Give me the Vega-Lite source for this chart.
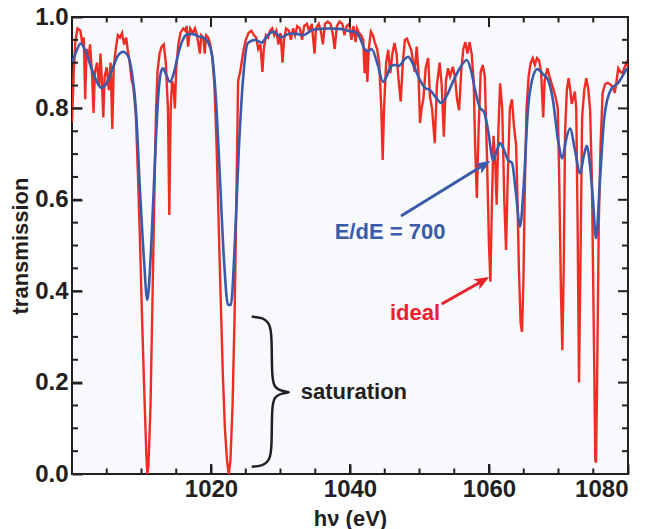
{
  "$schema": "https://vega.github.io/schema/vega-lite/v6.json",
  "width": 556,
  "height": 457,
  "autosize": {"type": "none"},
  "padding": {"left": 72, "top": 17, "right": 22, "bottom": 55},
  "background": "#ffffff",
  "view": {"fill": "#f8f9fd", "stroke": "#231f20", "strokeWidth": 2},
  "config": {
    "font": "Liberation Sans",
    "axis": {"grid": false, "domain": false,
      "labelFont": "Liberation Sans", "labelFontWeight": "bold", "labelFontSize": 24, "labelColor": "#231f20",
      "titleFont": "Liberation Sans", "titleFontWeight": "bold", "titleFontSize": 22, "titleColor": "#231f20"}
  },
  "resolve": {"axis": {"x": "independent", "y": "independent"}},
  "datasets": {
    "ideal": [
      {"E":1000.0,"T":0.77},{"E":1000.25,"T":0.88},{"E":1000.5,"T":0.95},{"E":1000.8,"T":0.975},{"E":1001.2,"T":0.97},{"E":1001.5,"T":0.94},{"E":1001.7,"T":0.955},{"E":1001.9,"T":0.82},{"E":1002.1,"T":0.93},{"E":1002.4,"T":0.91},{"E":1002.6,"T":0.94},{"E":1002.9,"T":0.87},{"E":1003.1,"T":0.79},{"E":1003.3,"T":0.88},{"E":1003.6,"T":0.9},{"E":1003.9,"T":0.85},{"E":1004.1,"T":0.92},{"E":1004.3,"T":0.86},{"E":1004.5,"T":0.78},{"E":1004.7,"T":0.87},{"E":1005.0,"T":0.89},{"E":1005.3,"T":0.84},{"E":1005.55,"T":0.9},{"E":1005.8,"T":0.755},{"E":1006.0,"T":0.89},{"E":1006.3,"T":0.93},{"E":1006.6,"T":0.96},{"E":1006.9,"T":0.955},{"E":1007.2,"T":0.965},{"E":1007.5,"T":0.94},{"E":1007.8,"T":0.955},{"E":1008.0,"T":0.93},{"E":1008.3,"T":0.9},{"E":1008.6,"T":0.86},{"E":1008.8,"T":0.85},{"E":1009.0,"T":0.82},{"E":1009.2,"T":0.78},{"E":1009.5,"T":0.65},{"E":1009.8,"T":0.5},{"E":1010.1,"T":0.33},{"E":1010.4,"T":0.18},{"E":1010.7,"T":0.04},{"E":1010.85,"T":0.0},{"E":1011.0,"T":0.02},{"E":1011.3,"T":0.15},{"E":1011.6,"T":0.4},{"E":1011.9,"T":0.65},{"E":1012.1,"T":0.8},{"E":1012.3,"T":0.88},{"E":1012.6,"T":0.92},{"E":1012.9,"T":0.935},{"E":1013.2,"T":0.94},{"E":1013.5,"T":0.9},{"E":1013.8,"T":0.8},{"E":1014.0,"T":0.567},{"E":1014.2,"T":0.8},{"E":1014.4,"T":0.86},{"E":1014.6,"T":0.85},{"E":1014.8,"T":0.8},{"E":1015.0,"T":0.89},{"E":1015.3,"T":0.94},{"E":1015.6,"T":0.965},{"E":1016.0,"T":0.975},{"E":1016.3,"T":0.97},{"E":1016.5,"T":0.98},{"E":1016.7,"T":0.935},{"E":1017.0,"T":0.975},{"E":1017.4,"T":0.965},{"E":1017.7,"T":0.975},{"E":1018.0,"T":0.96},{"E":1018.4,"T":0.92},{"E":1018.6,"T":0.96},{"E":1018.9,"T":0.955},{"E":1019.1,"T":0.92},{"E":1019.3,"T":0.96},{"E":1019.6,"T":0.955},{"E":1019.9,"T":0.94},{"E":1020.2,"T":0.91},{"E":1020.5,"T":0.85},{"E":1020.8,"T":0.72},{"E":1021.1,"T":0.55},{"E":1021.4,"T":0.38},{"E":1021.7,"T":0.22},{"E":1022.0,"T":0.1},{"E":1022.3,"T":0.03},{"E":1022.55,"T":0.0},{"E":1022.8,"T":0.03},{"E":1023.1,"T":0.15},{"E":1023.4,"T":0.35},{"E":1023.65,"T":0.6},{"E":1023.9,"T":0.86},{"E":1024.2,"T":0.88},{"E":1024.6,"T":0.92},{"E":1025.0,"T":0.95},{"E":1025.4,"T":0.965},{"E":1025.8,"T":0.97},{"E":1026.2,"T":0.96},
      {"E":1026.5,"T":0.955},{"E":1026.8,"T":0.93},{"E":1027.1,"T":0.94},{"E":1027.4,"T":0.88},{"E":1027.6,"T":0.93},{"E":1027.9,"T":0.96},{"E":1028.2,"T":0.955},{"E":1028.5,"T":0.97},{"E":1028.8,"T":0.975},{"E":1029.1,"T":0.96},{"E":1029.4,"T":0.97},{"E":1029.7,"T":0.94},{"E":1030.0,"T":0.965},{"E":1030.3,"T":0.9},{"E":1030.5,"T":0.95},{"E":1030.8,"T":0.975},{"E":1031.2,"T":0.97},{"E":1031.5,"T":0.95},{"E":1031.8,"T":0.975},{"E":1032.1,"T":0.96},{"E":1032.4,"T":0.98},{"E":1032.8,"T":0.975},{"E":1033.1,"T":0.95},{"E":1033.4,"T":0.98},{"E":1033.8,"T":0.985},{"E":1034.1,"T":0.97},{"E":1034.5,"T":0.985},{"E":1034.9,"T":0.92},{"E":1035.1,"T":0.975},{"E":1035.5,"T":0.985},{"E":1035.8,"T":0.97},{"E":1036.1,"T":0.94},{"E":1036.4,"T":0.985},{"E":1036.8,"T":0.99},{"E":1037.2,"T":0.985},{"E":1037.5,"T":0.965},{"E":1037.8,"T":0.93},{"E":1038.1,"T":0.98},{"E":1038.5,"T":0.99},{"E":1038.9,"T":0.985},{"E":1039.2,"T":0.96},{"E":1039.5,"T":0.98},{"E":1039.9,"T":0.985},{"E":1040.2,"T":0.95},
      {"E":1040.5,"T":0.98},{"E":1040.8,"T":0.945},{"E":1041.0,"T":0.975},{"E":1041.3,"T":0.965},{"E":1041.6,"T":0.96},{"E":1041.9,"T":0.95},{"E":1042.1,"T":0.877},{"E":1042.3,"T":0.93},{"E":1042.5,"T":0.858},{"E":1042.7,"T":0.93},{"E":1043.0,"T":0.968},{"E":1043.3,"T":0.96},{"E":1043.6,"T":0.943},{"E":1043.9,"T":0.93},{"E":1044.2,"T":0.9},{"E":1044.5,"T":0.8},{"E":1044.7,"T":0.687},{"E":1044.9,"T":0.8},{"E":1045.2,"T":0.9},{"E":1045.5,"T":0.928},{"E":1045.8,"T":0.877},{"E":1046.1,"T":0.92},{"E":1046.4,"T":0.943},{"E":1046.7,"T":0.92},{"E":1047.0,"T":0.86},{"E":1047.3,"T":0.815},{"E":1047.6,"T":0.9},{"E":1047.9,"T":0.95},{"E":1048.2,"T":0.953},{"E":1048.5,"T":0.94},{"E":1048.8,"T":0.928},{"E":1049.1,"T":0.9},{"E":1049.3,"T":0.88},{"E":1049.6,"T":0.935},{"E":1049.85,"T":0.88},{"E":1050.07,"T":0.768},{"E":1050.3,"T":0.8},{"E":1050.55,"T":0.82},{"E":1050.9,"T":0.89},{"E":1051.25,"T":0.91},{"E":1051.5,"T":0.826},{"E":1051.8,"T":0.8},{"E":1052.2,"T":0.724},{"E":1052.5,"T":0.85},{"E":1052.9,"T":0.9},{"E":1053.2,"T":0.85},{"E":1053.5,"T":0.738},{"E":1053.8,"T":0.86},{"E":1054.1,"T":0.888},{"E":1054.4,"T":0.87},{"E":1054.8,"T":0.891},{"E":1055.1,"T":0.87},{"E":1055.4,"T":0.82},{"E":1055.7,"T":0.796},{"E":1056.0,"T":0.88},{"E":1056.3,"T":0.93},{"E":1056.6,"T":0.945},{"E":1056.9,"T":0.92},{"E":1057.2,"T":0.945},{"E":1057.5,"T":0.92},{"E":1057.8,"T":0.86},{"E":1058.0,"T":0.72},{"E":1058.25,"T":0.604},{"E":1058.5,"T":0.75},{"E":1058.8,"T":0.88},{"E":1059.1,"T":0.895},{"E":1059.4,"T":0.87},{"E":1059.7,"T":0.7},{"E":1060.0,"T":0.5},{"E":1060.2,"T":0.421},{"E":1060.4,"T":0.58},{"E":1060.65,"T":0.74},{"E":1060.9,"T":0.68},{"E":1061.1,"T":0.589},{"E":1061.35,"T":0.75},{"E":1061.6,"T":0.855},{"E":1061.9,"T":0.8},{"E":1062.2,"T":0.6},{"E":1062.45,"T":0.49},{"E":1062.7,"T":0.65},{"E":1063.0,"T":0.8},{"E":1063.3,"T":0.82},{"E":1063.6,"T":0.76},{"E":1063.9,"T":0.72},{"E":1064.1,"T":0.6},{"E":1064.3,"T":0.45},{"E":1064.55,"T":0.33},{"E":1064.75,"T":0.311},{"E":1064.95,"T":0.42},{"E":1065.15,"T":0.62},{"E":1065.4,"T":0.8},{"E":1065.7,"T":0.87},{"E":1066.0,"T":0.9},{"E":1066.3,"T":0.91},{"E":1066.6,"T":0.895},{"E":1066.9,"T":0.91},{"E":1067.2,"T":0.905},{"E":1067.5,"T":0.88},{"E":1067.8,"T":0.78},{"E":1068.0,"T":0.86},{"E":1068.4,"T":0.888},{"E":1068.7,"T":0.87},{"E":1069.0,"T":0.855},{"E":1069.3,"T":0.84},{"E":1069.6,"T":0.823},{"E":1069.9,"T":0.8},{"E":1070.1,"T":0.65},{"E":1070.35,"T":0.4},{"E":1070.55,"T":0.271},{"E":1070.75,"T":0.45},{"E":1070.95,"T":0.75},{"E":1071.2,"T":0.84},{"E":1071.45,"T":0.866},{"E":1071.7,"T":0.84},{"E":1071.9,"T":0.81},{"E":1072.1,"T":0.82},{"E":1072.35,"T":0.837},{"E":1072.55,"T":0.8},{"E":1072.75,"T":0.55},{"E":1072.95,"T":0.2},{"E":1073.15,"T":0.45},{"E":1073.4,"T":0.78},{"E":1073.7,"T":0.84},{"E":1074.0,"T":0.866},{"E":1074.3,"T":0.84},{"E":1074.55,"T":0.796},{"E":1074.8,"T":0.65},{"E":1075.05,"T":0.35},{"E":1075.3,"T":0.03},{"E":1075.4,"T":0.025},{"E":1075.55,"T":0.2},{"E":1075.8,"T":0.55},{"E":1076.05,"T":0.72},{"E":1076.35,"T":0.834},{"E":1076.7,"T":0.853},{"E":1077.1,"T":0.856},{"E":1077.5,"T":0.852},{"E":1077.85,"T":0.845},{"E":1078.1,"T":0.834},{"E":1078.35,"T":0.86},{"E":1078.6,"T":0.888},{"E":1078.9,"T":0.88},{"E":1079.2,"T":0.877},{"E":1079.5,"T":0.89},{"E":1079.8,"T":0.9},{"E":1080.0,"T":0.89}
    ],
    "res700": [
      {"E":1000.0,"T":0.899},{"E":1000.58,"T":0.923},{"E":1001.25,"T":0.942},{"E":1002.0,"T":0.923},{"E":1002.88,"T":0.884},{"E":1003.6,"T":0.858},{"E":1004.2,"T":0.845},{"E":1004.9,"T":0.853},{"E":1005.76,"T":0.884},{"E":1006.6,"T":0.915},{"E":1007.34,"T":0.924},{"E":1008.06,"T":0.915},{"E":1008.6,"T":0.88},{"E":1009.2,"T":0.797},{"E":1009.78,"T":0.621},{"E":1010.36,"T":0.468},{"E":1010.83,"T":0.381},{"E":1011.37,"T":0.49},{"E":1011.94,"T":0.687},{"E":1012.37,"T":0.818},{"E":1012.8,"T":0.88},{"E":1013.1,"T":0.888},{"E":1013.5,"T":0.875},{"E":1014.1,"T":0.858},{"E":1014.7,"T":0.88},{"E":1015.25,"T":0.917},{"E":1015.8,"T":0.945},{"E":1016.5,"T":0.961},{"E":1017.27,"T":0.963},{"E":1018.1,"T":0.958},{"E":1019.0,"T":0.954},{"E":1019.57,"T":0.945},{"E":1020.14,"T":0.917},{"E":1020.72,"T":0.818},{"E":1021.3,"T":0.643},{"E":1021.87,"T":0.468},{"E":1022.45,"T":0.37},{"E":1022.85,"T":0.37},{"E":1023.45,"T":0.512},{"E":1024.0,"T":0.709},{"E":1024.6,"T":0.862},{"E":1025.3,"T":0.943},{"E":1026.3,"T":0.95},{"E":1027.3,"T":0.944},{"E":1028.06,"T":0.958},{"E":1028.9,"T":0.968},{"E":1030.17,"T":0.956},{"E":1031.37,"T":0.964},{"E":1032.37,"T":0.963},{"E":1033.2,"T":0.96},{"E":1034.7,"T":0.972},{"E":1037.1,"T":0.975},{"E":1038.56,"T":0.974},{"E":1040.0,"T":0.969},{"E":1040.7,"T":0.968},{"E":1041.44,"T":0.954},{"E":1042.1,"T":0.93},{"E":1042.6,"T":0.925},{"E":1043.1,"T":0.93},{"E":1044.0,"T":0.895},{"E":1044.75,"T":0.858},{"E":1045.3,"T":0.871},{"E":1045.9,"T":0.893},{"E":1046.5,"T":0.895},{"E":1047.05,"T":0.893},{"E":1047.77,"T":0.906},{"E":1048.35,"T":0.913},{"E":1049.06,"T":0.897},{"E":1050.07,"T":0.862},{"E":1050.8,"T":0.845},{"E":1051.5,"T":0.84},{"E":1052.4,"T":0.823},{"E":1053.1,"T":0.812},{"E":1053.96,"T":0.829},{"E":1054.8,"T":0.858},{"E":1055.8,"T":0.888},{"E":1056.8,"T":0.906},{"E":1057.4,"T":0.884},{"E":1058.0,"T":0.84},{"E":1058.7,"T":0.801},{"E":1059.3,"T":0.792},{"E":1059.86,"T":0.753},{"E":1060.6,"T":0.687},{"E":1061.15,"T":0.709},{"E":1061.6,"T":0.724},{"E":1062.16,"T":0.709},{"E":1062.73,"T":0.687},{"E":1063.3,"T":0.681},{"E":1063.9,"T":0.611},{"E":1064.46,"T":0.541},{"E":1065.04,"T":0.643},{"E":1065.6,"T":0.797},{"E":1066.2,"T":0.862},{"E":1066.95,"T":0.886},{"E":1067.77,"T":0.875},{"E":1068.5,"T":0.862},{"E":1069.2,"T":0.818},{"E":1069.93,"T":0.731},{"E":1070.55,"T":0.691},{"E":1071.08,"T":0.731},{"E":1071.65,"T":0.756},{"E":1072.37,"T":0.709},{"E":1073.1,"T":0.658},{"E":1073.67,"T":0.698},{"E":1074.06,"T":0.718},{"E":1074.53,"T":0.676},{"E":1074.96,"T":0.6},{"E":1075.4,"T":0.516},{"E":1075.97,"T":0.643},{"E":1076.55,"T":0.775},{"E":1077.0,"T":0.818},{"E":1077.66,"T":0.844},{"E":1078.56,"T":0.855},{"E":1079.14,"T":0.869},{"E":1079.86,"T":0.888}
    ],
    "brace": [
      {"i":0,"E":1025.86,"T":0.344},{"i":1,"E":1027.3,"T":0.343},{"i":2,"E":1028.5,"T":0.33},{"i":3,"E":1028.75,"T":0.3},{"i":4,"E":1028.75,"T":0.22},{"i":5,"E":1029.0,"T":0.19},{"i":6,"E":1030.2,"T":0.181},{"i":7,"E":1031.7,"T":0.179},{"i":8,"E":1030.2,"T":0.177},{"i":9,"E":1029.0,"T":0.168},{"i":10,"E":1028.75,"T":0.14},{"i":11,"E":1028.75,"T":0.06},{"i":12,"E":1028.5,"T":0.03},{"i":13,"E":1027.3,"T":0.017},{"i":14,"E":1025.86,"T":0.016}
    ],
    "xMajor": [
      {"E":1020,"T":0},{"E":1040,"T":0},{"E":1060,"T":0},{"E":1020,"T":1},{"E":1040,"T":1},{"E":1060,"T":1}
    ],
    "xMinor": [
      {"E":1005,"T":0},{"E":1010,"T":0},{"E":1015,"T":0},{"E":1025,"T":0},{"E":1030,"T":0},{"E":1035,"T":0},{"E":1045,"T":0},{"E":1050,"T":0},{"E":1055,"T":0},{"E":1065,"T":0},{"E":1070,"T":0},{"E":1075,"T":0},
      {"E":1005,"T":1},{"E":1010,"T":1},{"E":1015,"T":1},{"E":1025,"T":1},{"E":1030,"T":1},{"E":1035,"T":1},{"E":1045,"T":1},{"E":1050,"T":1},{"E":1055,"T":1},{"E":1065,"T":1},{"E":1070,"T":1},{"E":1075,"T":1}
    ],
    "yMajor": [
      {"E":1000,"T":0.2},{"E":1000,"T":0.4},{"E":1000,"T":0.6},{"E":1000,"T":0.8},{"E":1080,"T":0.2},{"E":1080,"T":0.4},{"E":1080,"T":0.6},{"E":1080,"T":0.8}
    ],
    "yMinor": [
      {"E":1000,"T":0.05},{"E":1000,"T":0.1},{"E":1000,"T":0.15},{"E":1000,"T":0.25},{"E":1000,"T":0.3},{"E":1000,"T":0.35},{"E":1000,"T":0.45},{"E":1000,"T":0.5},{"E":1000,"T":0.55},{"E":1000,"T":0.65},{"E":1000,"T":0.7},{"E":1000,"T":0.75},{"E":1000,"T":0.85},{"E":1000,"T":0.9},{"E":1000,"T":0.95},
      {"E":1080,"T":0.05},{"E":1080,"T":0.1},{"E":1080,"T":0.15},{"E":1080,"T":0.25},{"E":1080,"T":0.3},{"E":1080,"T":0.35},{"E":1080,"T":0.45},{"E":1080,"T":0.5},{"E":1080,"T":0.55},{"E":1080,"T":0.65},{"E":1080,"T":0.7},{"E":1080,"T":0.75},{"E":1080,"T":0.85},{"E":1080,"T":0.9},{"E":1080,"T":0.95}
    ]
  },
  "layer": [
    {
      "data": {"name": "ideal"},
      "mark": {"type": "line", "color": "#ee2e24", "strokeWidth": 2.4, "clip": true},
      "encoding": {
        "x": {"field": "E", "type": "quantitative", "scale": {"domain": [1000, 1080], "nice": false, "zero": false},
          "axis": {"orient": "bottom", "values": [1020, 1040, 1060, 1080], "format": "d", "tickSize": -10, "tickWidth": 2, "tickColor": "#231f20", "labelPadding": 13, "title": "hν (eV)", "titlePadding": 7}},
        "y": {"field": "T", "type": "quantitative", "scale": {"domain": [0, 1], "nice": false},
          "axis": {"orient": "left", "values": [0, 0.2, 0.4, 0.6, 0.8, 1.0], "format": ".1f", "tickSize": -10, "tickWidth": 2, "tickColor": "#231f20", "labelPadding": 14, "title": "transmission", "titlePadding": 2}}
      }
    },
    {
      "data": {"name": "res700"},
      "mark": {"type": "line", "color": "#3a5ba9", "strokeWidth": 2.6, "interpolate": "monotone", "clip": true},
      "encoding": {
        "x": {"field": "E", "type": "quantitative", "axis": null},
        "y": {"field": "T", "type": "quantitative", "axis": null}
      }
    },
    {
      "data": {"name": "brace"},
      "mark": {"type": "line", "color": "#231f20", "strokeWidth": 2.5, "interpolate": "basis"},
      "encoding": {
        "x": {"field": "E", "type": "quantitative", "axis": null},
        "y": {"field": "T", "type": "quantitative", "axis": null},
        "order": {"field": "i", "type": "quantitative"}
      }
    },
    {
      "data": {"values": [{"E": 1047.34, "T": 0.5646, "E2": 1059.3, "T2": 0.6766}]},
      "mark": {"type": "rule", "color": "#3a5ba9", "strokeWidth": 3},
      "encoding": {
        "x": {"field": "E", "type": "quantitative", "axis": null},
        "y": {"field": "T", "type": "quantitative", "axis": null},
        "x2": {"field": "E2"},
        "y2": {"field": "T2"}
      }
    },
    {
      "data": {"values": [{"E": 1059.3, "T": 0.6766}]},
      "mark": {"type": "point", "shape": "M1,0L-1,-0.8L-0.5,0L-1,0.8Z", "filled": true, "color": "#3a5ba9", "opacity": 1, "size": 220, "angle": -33.7},
      "encoding": {
        "x": {"field": "E", "type": "quantitative", "axis": null},
        "y": {"field": "T", "type": "quantitative", "axis": null}
      }
    },
    {
      "data": {"values": [{"E": 1053.19, "T": 0.372, "E2": 1059.1, "T2": 0.4228}]},
      "mark": {"type": "rule", "color": "#e8212b", "strokeWidth": 3},
      "encoding": {
        "x": {"field": "E", "type": "quantitative", "axis": null},
        "y": {"field": "T", "type": "quantitative", "axis": null},
        "x2": {"field": "E2"},
        "y2": {"field": "T2"}
      }
    },
    {
      "data": {"values": [{"E": 1059.1, "T": 0.4228}]},
      "mark": {"type": "point", "shape": "M1,0L-1,-0.8L-0.5,0L-1,0.8Z", "filled": true, "color": "#e8212b", "opacity": 1, "size": 220, "angle": -29.7},
      "encoding": {
        "x": {"field": "E", "type": "quantitative", "axis": null},
        "y": {"field": "T", "type": "quantitative", "axis": null}
      }
    },
    {
      "data": {"values": [{"E": 1045.76, "T": 0.5295, "label": "E/dE = 700"}]},
      "mark": {"type": "text", "font": "Liberation Sans", "fontWeight": "bold", "fontSize": 22, "color": "#3a5ba9", "align": "center", "baseline": "middle"},
      "encoding": {
        "x": {"field": "E", "type": "quantitative", "axis": null},
        "y": {"field": "T", "type": "quantitative", "axis": null},
        "text": {"field": "label"}
      }
    },
    {
      "data": {"values": [{"E": 1049.35, "T": 0.352, "label": "ideal"}]},
      "mark": {"type": "text", "font": "Liberation Sans", "fontWeight": "bold", "fontSize": 22, "color": "#e8212b", "align": "center", "baseline": "middle"},
      "encoding": {
        "x": {"field": "E", "type": "quantitative", "axis": null},
        "y": {"field": "T", "type": "quantitative", "axis": null},
        "text": {"field": "label"}
      }
    },
    {
      "data": {"values": [{"E": 1032.9, "T": 0.179, "label": "saturation"}]},
      "mark": {"type": "text", "font": "Liberation Sans", "fontWeight": "bold", "fontSize": 22, "color": "#231f20", "align": "left", "baseline": "middle"},
      "encoding": {
        "x": {"field": "E", "type": "quantitative", "axis": null},
        "y": {"field": "T", "type": "quantitative", "axis": null},
        "text": {"field": "label"}
      }
    },
    {
      "data": {"name": "xMajor"},
      "mark": {"type": "tick", "orient": "vertical", "size": 20, "thickness": 2, "color": "#231f20", "opacity": 1, "clip": true},
      "encoding": {
        "x": {"field": "E", "type": "quantitative", "axis": null},
        "y": {"field": "T", "type": "quantitative", "axis": null}
      }
    },
    {
      "data": {"name": "xMinor"},
      "mark": {"type": "tick", "orient": "vertical", "size": 11, "thickness": 2, "color": "#231f20", "opacity": 1, "clip": true},
      "encoding": {
        "x": {"field": "E", "type": "quantitative", "axis": null},
        "y": {"field": "T", "type": "quantitative", "axis": null}
      }
    },
    {
      "data": {"name": "yMajor"},
      "mark": {"type": "tick", "orient": "horizontal", "size": 20, "thickness": 2, "color": "#231f20", "opacity": 1, "clip": true},
      "encoding": {
        "x": {"field": "E", "type": "quantitative", "axis": null},
        "y": {"field": "T", "type": "quantitative", "axis": null}
      }
    },
    {
      "data": {"name": "yMinor"},
      "mark": {"type": "tick", "orient": "horizontal", "size": 12, "thickness": 2, "color": "#231f20", "opacity": 1, "clip": true},
      "encoding": {
        "x": {"field": "E", "type": "quantitative", "axis": null},
        "y": {"field": "T", "type": "quantitative", "axis": null}
      }
    }
  ]
}
